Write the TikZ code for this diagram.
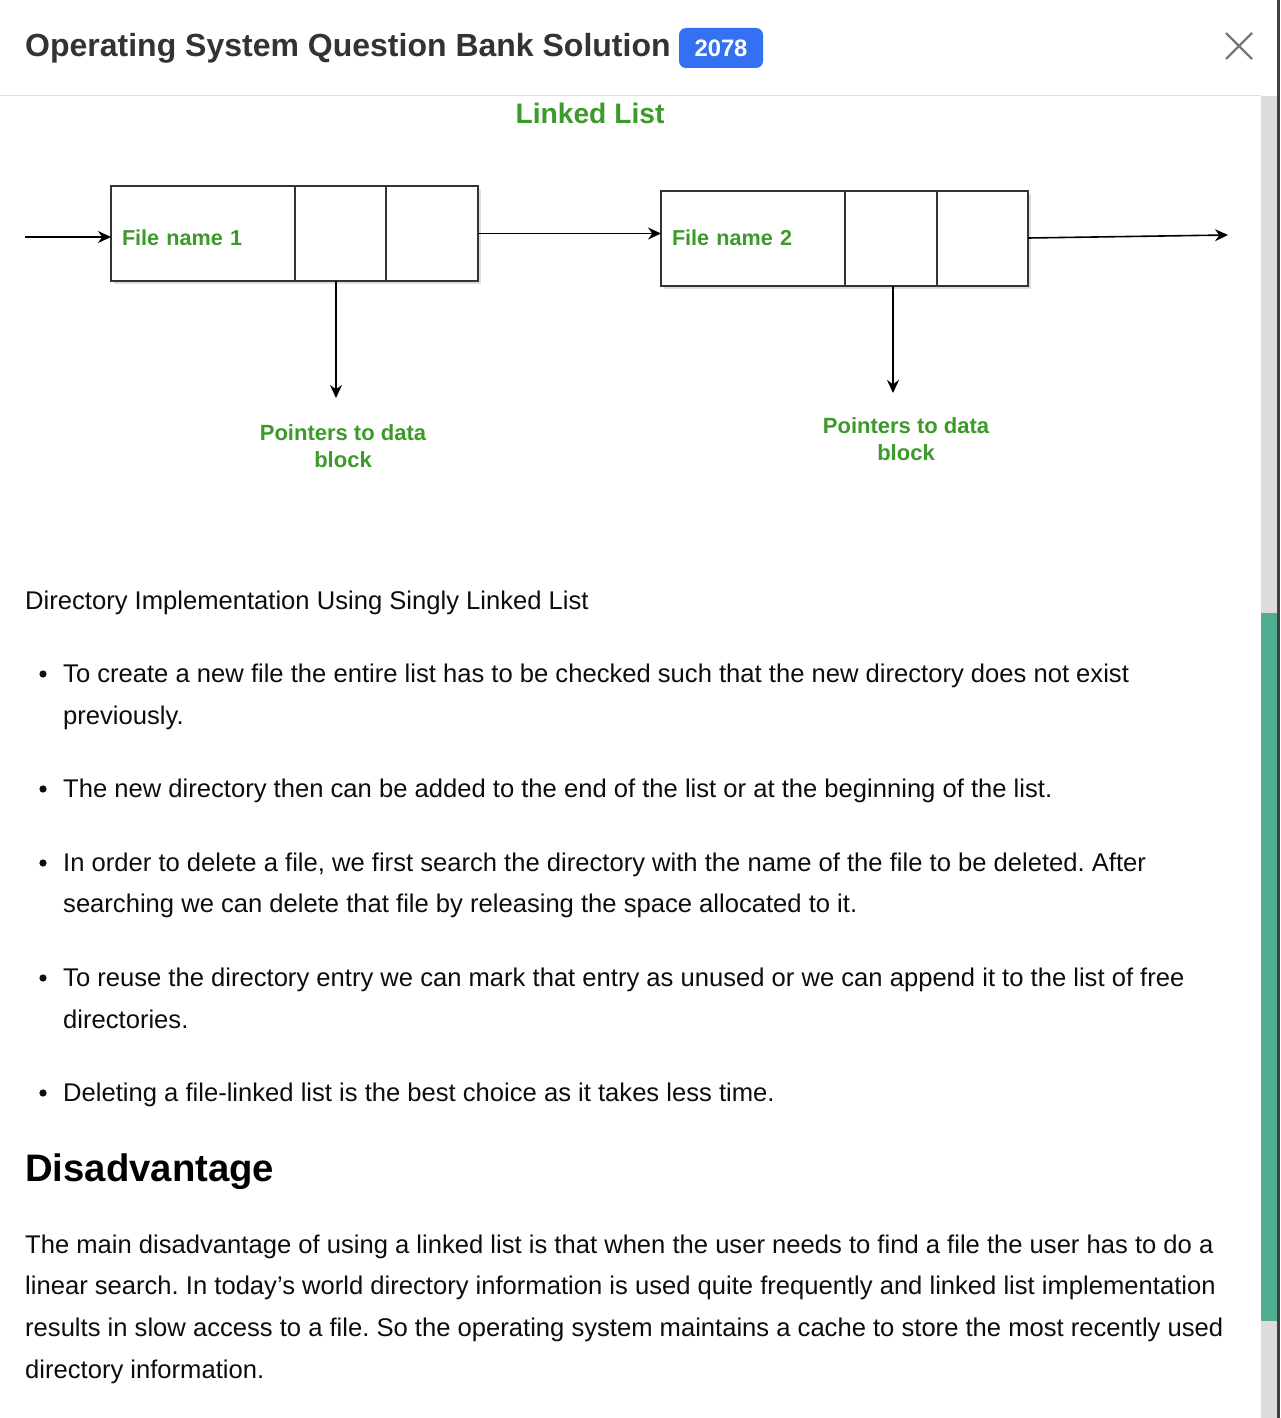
\documentclass[tikz,border=0pt]{standalone}
\usepackage{fontspec}
\setmainfont{Liberation Sans}
\usetikzlibrary{positioning,calc,shadows,arrows.meta}
\frenchspacing

\definecolor{titlegray}{RGB}{51,51,51}
\definecolor{badgeblue}{RGB}{52,113,242}
\definecolor{figgreen}{RGB}{60,154,42}
\definecolor{trackgray}{RGB}{220,220,220}
\definecolor{thumbgreen}{RGB}{79,173,146}
\definecolor{rulegray}{RGB}{224,224,224}
\definecolor{boxline}{RGB}{51,51,51}
\definecolor{closegray}{RGB}{120,120,120}

\tikzset{
  cell/.style={draw=boxline, line width=2pt, fill=white, minimum height=95pt, inner sep=0pt, outer sep=0pt,
    drop shadow={shadow xshift=3pt, shadow yshift=-3pt, opacity=0.18, fill=black!70}},
  namecell/.style={cell, text=figgreen, font=\bfseries\fontsize{21.6}{26}\selectfont,
    inner xsep=11pt, text width=162pt, align=left},
  link/.style={-{Stealth[length=13pt,width=12pt]}, line width=1.6pt, black},
  figlbl/.style={text=figgreen, font=\bfseries\fontsize{22}{27}\selectfont, align=center, inner sep=0pt},
  body/.style={anchor=base west, inner sep=0pt, text=black!95, font=\fontsize{25.6}{30}\selectfont},
}

\begin{document}
\begin{tikzpicture}[x=1pt,y=-1pt]
    % Page size of the screenshot
    \useasboundingbox (0,0) rectangle (1280,1418);
    \fill[white] (0,0) rectangle (1280,1418);

    % Draw heading of the figure
    \node[anchor=base, inner sep=0pt, text=figgreen, font=\bfseries\fontsize{28.2}{32}\selectfont] (fighead) at (590,124) {Linked List};

    % Draw the directory entries
    \node[namecell, minimum width=184pt, text height=28pt, text depth=5pt, anchor=west] (f1) at (111,233.5) {File name 1};
    \node[cell, minimum width=91pt, right=0pt of f1] (p1a) {};
    \node[cell, minimum width=92pt, right=0pt of p1a] (p1b) {};

    \node[namecell, minimum width=184pt, anchor=west] (f2) at (661,238) {File name 2};
    \node[cell, minimum width=92pt, right=0pt of f2] (p2a) {};
    \node[cell, minimum width=91pt, right=0pt of p2a] (p2b) {};

    % Free ends of the links
    \coordinate (in1) at (25,237);
    \coordinate (out2) at (1228,235);
    \coordinate (d1) at (336,398);
    \coordinate (d2) at (893,393);

    % Draw the links
    \draw[link] (in1) -- (in1 -| f1.west);
    \draw[link] (p1b.east) -- (p1b.east -| f2.west);
    \draw[link] (p2b.east) -- (out2);
    \draw[link] (d1 |- p1a.south) -- (d1);
    \draw[link] (d2 |- p2a.south) -- (d2);

    % Draw the pointer labels
    \node[figlbl] (ptr1) at (343,446) {Pointers to data\\block};
    \node[figlbl] (ptr2) at (906,439) {Pointers to data\\block};

    % Caption and bullet list
    \node[body] (cap) at (25,609) {Directory Implementation Using Singly Linked List};

    \fill[black!95] (43,674) circle (3.6pt);
    \node[body] (b1a) at (63,682) {To create a new file the entire list has to be checked such that the new directory does not exist};
    \node[body] (b1b) at (63,724) {previously.};
    \fill[black!95] (43,789) circle (3.6pt);
    \node[body] (b2) at (63,797) {The new directory then can be added to the end of the list or at the beginning of the list.};
    \fill[black!95] (43,863) circle (3.6pt);
    \node[body] (b3a) at (63,871) {In order to delete a file, we first search the directory with the name of the file to be deleted. After};
    \node[body] (b3b) at (63,912) {searching we can delete that file by releasing the space allocated to it.};
    \fill[black!95] (43,978) circle (3.6pt);
    \node[body] (b4a) at (63,986) {To reuse the directory entry we can mark that entry as unused or we can append it to the list of free};
    \node[body] (b4b) at (63,1028) {directories.};
    \fill[black!95] (43,1093) circle (3.6pt);
    \node[body] (b5) at (63,1101) {Deleting a file-linked list is the best choice as it takes less time.};

    % Disadvantage section
    \node[body, font=\bfseries\fontsize{38.3}{44}\selectfont, text=black] (dishead) at (25,1181) {Disadvantage};
    \node[body] (d1a) at (25,1253) {The main disadvantage of using a linked list is that when the user needs to find a file the user has to do a};
    \node[body] (d1b) at (25,1294) {linear search. In today’s world directory information is used quite frequently and linked list implementation};
    \node[body] (d1c) at (25,1336) {results in slow access to a file. So the operating system maintains a cache to store the most recently used};
    \node[body] (d1d) at (25,1378) {directory information.};

    % Header bar of the dialog
    \fill[white] (0,0) rectangle (1277,96);
    \draw[rulegray, line width=1pt] (0,96) -- (1261,96);
    \node[anchor=base west, inner sep=0pt, text=titlegray, font=\bfseries\fontsize{32}{36}\selectfont] (title) at (25,57) {Operating System Question Bank Solution};
    \node[fill=badgeblue, rounded corners=7pt, minimum width=84pt, minimum height=40pt, inner sep=0pt,
      text=white, font=\bfseries\fontsize{23.8}{26}\selectfont] (badge) at (721,48) {2078};
    \draw[closegray, line width=2.2pt] (1226,33) -- (1252,59) (1226,59) -- (1252,33);

    % Scrollbar and window edge
    \fill[trackgray] (1261,96) rectangle (1277,1418);
    \fill[thumbgreen] (1261,613) rectangle (1277,1321);
    \fill[black!75] (1277,0) rectangle (1280,1418);
\end{tikzpicture}
\end{document}
